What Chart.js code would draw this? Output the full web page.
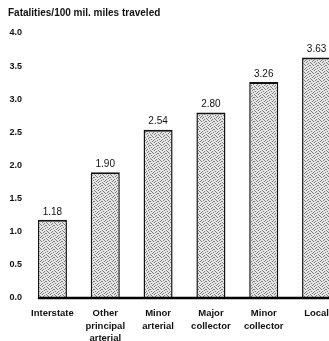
<!DOCTYPE html>
<html>
<head>
<meta charset="utf-8">
<script src="https://cdn.jsdelivr.net/npm/chart.js@4.4.1/dist/chart.umd.min.js"></script>
<style>
  html, body { margin: 0; padding: 0; background: #fff; overflow: hidden; }
  #wrap { width: 345px; height: 341px; }
</style>
</head>
<body>
<div id="wrap"><canvas id="fatalityChart"></canvas></div>
<script>
const categories = [
  ['Interstate'],
  ['Other', 'principal', 'arterial'],
  ['Minor', 'arterial'],
  ['Major', 'collector'],
  ['Minor', 'collector'],
  ['Local']
];
const fatalityRates = [1.18, 1.90, 2.54, 2.80, 3.26, 3.63];
const yTicks = [0, 0.5, 1.0, 1.5, 2.0, 2.5, 3.0, 3.5, 4.0];
const titleText = 'Fatalities/100 mil. miles traveled';

const fontFamily = "'Liberation Sans', Arial, Helvetica, sans-serif";

// grey stipple, like the scanned screen tone
function makeStipple() {
  const c = document.createElement('canvas');
  c.width = 8; c.height = 8;
  const g = c.getContext('2d');
  g.fillStyle = '#e4e4e4';
  g.fillRect(0, 0, 8, 8);
  const dots = [[0,0],[1,1],[3,0],[4,2],[2,3],[6,1],[5,4],[7,3],[0,5],[2,6],[3,5],[6,6],[4,7],[7,7],[1,4],[5,1]];
  g.fillStyle = '#7a7a7a';
  dots.forEach(([x, y]) => g.fillRect(x, y, 1, 1));
  return g.createPattern(c, 'repeat');
}

const valueLabels = {
  id: 'valueLabels',
  afterDatasetsDraw(chart) {
    const { ctx } = chart;
    const meta = chart.getDatasetMeta(0);
    ctx.save();
    ctx.fillStyle = '#111';
    ctx.font = '10px ' + fontFamily;
    ctx.textAlign = 'center';
    ctx.textBaseline = 'bottom';
    meta.data.forEach((bar, i) => {
      ctx.fillText(fatalityRates[i].toFixed(2), bar.x, bar.y - 3);
    });
    ctx.restore();
  }
};

const baseline = {
  id: 'baseline',
  afterDatasetsDraw(chart) {
    const { ctx, chartArea } = chart;
    const first = chart.getDatasetMeta(0).data[0];
    const y = chart.scales.y.getPixelForValue(0);
    ctx.save();
    ctx.strokeStyle = '#000';
    ctx.lineWidth = 2.5;
    ctx.beginPath();
    ctx.moveTo(first.x - first.width / 2, y);
    ctx.lineTo(chartArea.right + 5, y);
    ctx.stroke();
    ctx.restore();
  }
};

new Chart(document.getElementById('fatalityChart'), {
  type: 'bar',
  data: {
    labels: categories,
    datasets: [{
      data: fatalityRates,
      backgroundColor: makeStipple(),
      borderColor: '#111',
      borderWidth: { top: 2, left: 1.5, right: 1.5, bottom: 0 },
      borderSkipped: 'bottom',
      barPercentage: 0.55,
      categoryPercentage: 1
    }]
  },
  plugins: [valueLabels, baseline],
  options: {
    responsive: true,
    maintainAspectRatio: false,
    animation: false,
    layout: { padding: { left: 8, right: 2, top: 0, bottom: 0 } },
    plugins: {
      legend: { display: false },
      tooltip: { enabled: false },
      title: {
        display: true,
        text: titleText,
        align: 'start',
        color: '#111',
        font: { family: fontFamily, size: 10, weight: 'bold', lineHeight: 1.2 },
        padding: { top: 7, bottom: 14 }
      }
    },
    scales: {
      x: {
        grid: { display: false, drawTicks: false },
        border: { display: false },
        ticks: {
          color: '#111',
          font: { family: fontFamily, size: 9.5, weight: 'bold', lineHeight: 1.33 },
          padding: 9,
          maxRotation: 0,
          autoSkip: false
        },
        afterFit: s => { s.height = 43; }
      },
      y: {
        min: 0,
        max: 4,
        grid: { display: false, drawTicks: false },
        border: { display: false },
        afterBuildTicks: s => { s.ticks = yTicks.map(v => ({ value: v })); },
        ticks: {
          color: '#111',
          font: { family: fontFamily, size: 9, weight: 'bold' },
          padding: 4,
          callback: v => v.toFixed(1)
        },
        afterFit: s => { s.width = 18; }
      }
    }
  }
});
</script>
</body>
</html>
